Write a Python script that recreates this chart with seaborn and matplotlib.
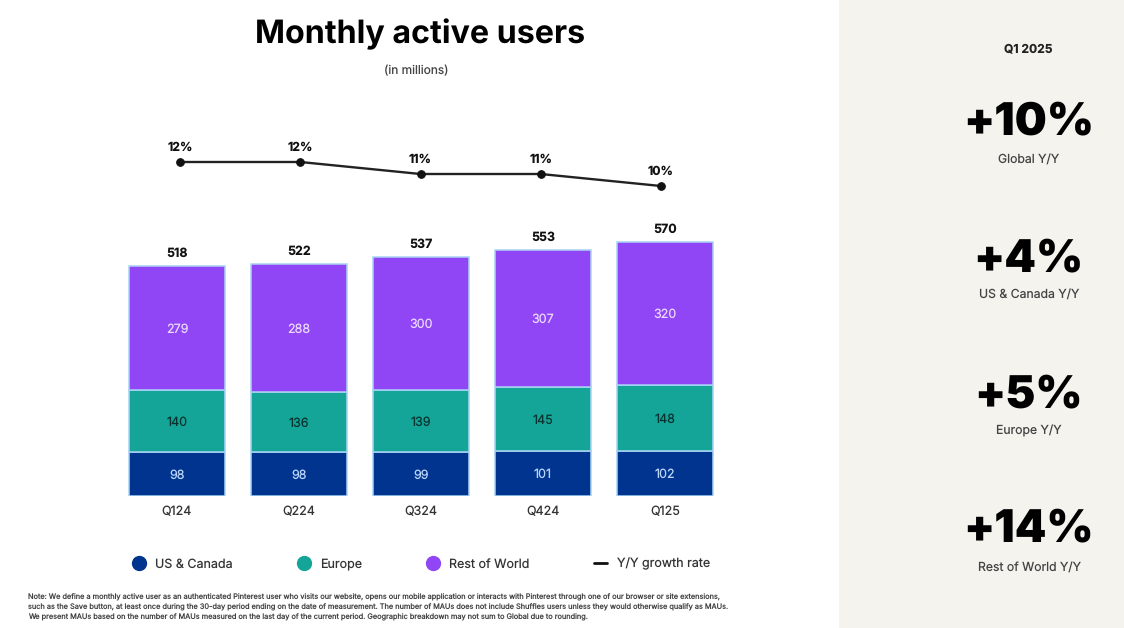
import matplotlib
matplotlib.use("Agg")
import matplotlib.pyplot as plt
from matplotlib.lines import Line2D
from matplotlib.patches import Rectangle
import seaborn as sns

quarters = ["Q124", "Q224", "Q324", "Q424", "Q125"]
us_canada = [98, 98, 99, 101, 102]
europe = [140, 136, 139, 145, 148]
rest_of_world = [279, 288, 300, 307, 320]
totals = [518, 522, 537, 553, 570]
growth = [12, 12, 11, 11, 10]
series_names = ["US & Canada", "Europe", "Rest of World"]
line_name = "Y/Y growth rate"
kpi_period = "Q1 2025"
kpi_values = ["+10%", "+4%", "+5%", "+14%"]
kpi_labels = ["Global Y/Y", "US & Canada Y/Y", "Europe Y/Y", "Rest of World Y/Y"]
title = "Monthly active users"
subtitle = "(in millions)"
note = ("Note: We define a monthly active user as an authenticated Pinterest user who visits our website, opens our mobile application or interacts with Pinterest through one of our browser or site extensions,\n"
        "such as the Save button, at least once during the 30-day period ending on the date of measurement. The number of MAUs does not include Shuffles users unless they would otherwise qualify as MAUs.\n"
        "We present MAUs based on the number of MAUs measured on the last day of the current period. Geographic breakdown may not sum to Global due to rounding.")

NAVY, TEAL, PURPLE = "#00348F", "#14A598", "#9146F6"
EDGE = "#A9D3F5"
W, H = 1124, 628
sns.set_theme(style="white")
plt.rcParams["font.family"] = ["Inter", "DejaVu Sans"]
plt.rcParams["text.hinting"] = "no_hinting"

fig = plt.figure(figsize=(W / 100, H / 100), dpi=100, facecolor="white")
def px_axes(left, top, right, bottom):
    return fig.add_axes([left / W, 1 - bottom / H, (right - left) / W, (bottom - top) / H])

fig.add_artist(Rectangle((839 / W, 0), (W - 839) / W, 1, transform=fig.transFigure,
                         facecolor="#F4F3EE", edgecolor="none", zorder=0))

ax = px_axes(116, 229, 726, 496)
ax.patch.set_alpha(0)
bottom = [0] * len(quarters)
colors = [NAVY, TEAL, PURPLE]
text_colors = ["#BBD6FA", "#06332F", "#EBD9FF"]
for name, vals, c, tc in zip(series_names, [us_canada, europe, rest_of_world], colors, text_colors):
    sns.barplot(x=quarters, y=vals, bottom=bottom, color=c, saturation=1, width=0.78,
                edgecolor=EDGE, linewidth=1.1, ax=ax)
    labels = ax.bar_label(ax.containers[-1], labels=[str(v) for v in vals], label_type="center",
                          color=tc, fontsize=9)
    for t in labels:
        t.xyann = (t.xyann[0], -1)
    bottom = [b + v for b, v in zip(bottom, vals)]
for i, (b, t) in enumerate(zip(bottom, totals)):
    ax.annotate(str(t), (i, b), xytext=(0, 9), textcoords="offset points", ha="center", va="center",
                fontsize=9, fontweight="bold", color="#111111", annotation_clip=False)
ax.set_xlim(-0.5, 4.5)
ax.set_ylim(0, 600)
ax.set_yticks([])
ax.set_ylabel("")
ax.tick_params(axis="x", length=0, pad=7, labelsize=9, labelcolor="#333333")
sns.despine(ax=ax, left=True, bottom=True)

lax = px_axes(120, 150, 721, 198)
lax.patch.set_alpha(0)
sns.lineplot(x=quarters, y=growth, color="#222222", linewidth=1.7, marker="o", markersize=5.5,
             markeredgecolor="#111111", markerfacecolor="#111111", ax=lax, errorbar=None, sort=False)
for i, g in enumerate(growth):
    lax.annotate(f"{g}%", (i, g), xytext=(0, 10.2), textcoords="offset points", ha="center", va="center",
                 fontsize=8.8, fontweight="bold", color="#111111", annotation_clip=False)
lax.set_xlim(-0.5, 4.5)
lax.set_ylim(9, 13)
lax.axis("off")

def pt(x, y, s, **kw):
    fig.text(x / W, 1 - y / H, s, ha=kw.pop("ha", "center"), va=kw.pop("va", "center"), **kw)

pt(420, 34, title, fontsize=23.2, fontweight="bold", color="#000000")
pt(416.5, 71, subtitle, fontsize=8.6, color="#444444")
pt(1028.5, 49, kpi_period, fontsize=8.7, fontweight="bold", color="#222222")
for v, l, y1, y2 in zip(kpi_values, kpi_labels, [123, 260, 396, 530], [159, 294, 431, 567]):
    pt(1028.5, y1, v, fontsize=32.5, fontweight=900, color="#000000")
    pt(1029, y2, l, fontsize=8.8, color="#444444")
pt(28, 607.5, note, ha="left", fontsize=5.31, color="#444444", linespacing=1.42)

handles = [Line2D([], [], ls="", marker="o", ms=10, color=c) for c in colors]
handles.append(Line2D([], [], color="#111111", lw=2))
leg = fig.legend(handles, series_names + [line_name], loc="center", ncols=4,
                 bbox_to_anchor=(421 / W, 1 - 564 / H), frameon=False, fontsize=9,
                 labelcolor="#333333", columnspacing=5.12, handletextpad=0.75, handlelength=1.1)
fig.savefig("out.png", dpi=100, facecolor="white")
